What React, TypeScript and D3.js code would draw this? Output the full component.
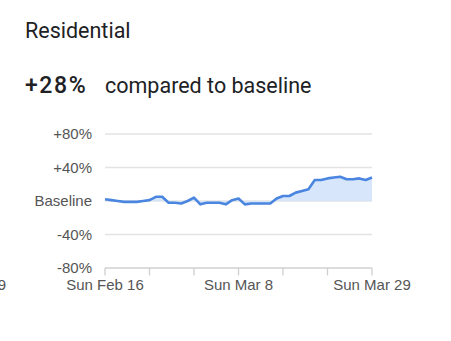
import React from "react";
import * as d3 from "d3";

const startDate = new Date(2020, 1, 16);
const values = [
  2, 1, 0, -1, -1, -1, 0, 1, 5, 5, -2, -2, -3, 0, 4, -4, -2, -2, -2, -4, 1, 3,
  -4, -3, -3, -3, -3, 3, 6, 6, 10, 12, 14, 25, 25, 27, 28, 29, 26, 26, 27, 25, 28,
];
const yTicks = [-80, -40, 0, 40, 80];
const yTickLabels = ["-80%", "-40%", "Baseline", "+40%", "+80%"];
const xLabelOffsets = [-21, 0, 21, 42];
const xLabelTexts = ["Sun Feb 9", "Sun Feb 16", "Sun Mar 8", "Sun Mar 29"];
const xTickOffsets = [0, 7, 14, 21, 28, 35, 42];

export default function App() {
  const W = 451, H = 341;
  const data = values.map((v, i) => ({ date: d3.timeDay.offset(startDate, i), v }));
  const x = d3.scaleTime().domain([startDate, d3.timeDay.offset(startDate, 42)]).range([105, 372]);
  const y = d3.scaleLinear().domain([-80, 80]).range([268, 134]);
  const line = d3.line<any>().x((d) => x(d.date)).y((d) => y(d.v));
  const area = d3.area<any>().x((d) => x(d.date)).y0(y(0)).y1((d) => y(d.v));
  const font = "'Liberation Sans', Arial, sans-serif";
  const hfont = "Roboto, 'Open Sans', sans-serif";
  return (
    <svg width={W} height={H} style={{ position: "absolute", left: 0, top: 0, background: "#fff" }}>
      <text x={25} y={38} fontFamily={hfont} fontSize={21.5} fill="#202124">Residential</text>
      <text x={25} y={92.5} fontFamily={hfont} fontSize={23} fontWeight={500} letterSpacing={1.6} fill="#202124">+28%</text>
      <text x={105} y={92.5} fontFamily={hfont} fontSize={21.5} fill="#202124">compared to baseline</text>
      {yTicks.map((t, i) => (
        <g key={t}>
          {t !== -80 && <line x1={105} x2={372} y1={y(t)} y2={y(t)} stroke="#e3e3e3" strokeWidth={1.3} />}
          <text x={92} y={y(t)} dy="0.36em" textAnchor="end" fontFamily={font} fontSize={15} fill="#555">{yTickLabels[i]}</text>
        </g>
      ))}
      <path d={area(data) || ""} fill="#d3e3fb" opacity={0.9} />
      <path d={line(data) || ""} fill="none" stroke="#4a86e0" strokeWidth={2.6} strokeLinejoin="round" />
      <line x1={105} x2={372} y1={y(-80)} y2={y(-80)} stroke="#d0d0d0" strokeWidth={1.3} />
      {xTickOffsets.map((o, i) => {
        const d = d3.timeDay.offset(startDate, o);
        return <line key={i} x1={x(d)} x2={x(d)} y1={y(-80)} y2={y(-80) + 7.5} stroke="#d0d0d0" strokeWidth={1.3} />;
      })}
      {xLabelOffsets.map((o, i) => (
        <text key={i} x={x(d3.timeDay.offset(startDate, o))} y={290} textAnchor="middle" fontFamily={font} fontSize={15} fill="#555">{xLabelTexts[i]}</text>
      ))}
    </svg>
  );
}
